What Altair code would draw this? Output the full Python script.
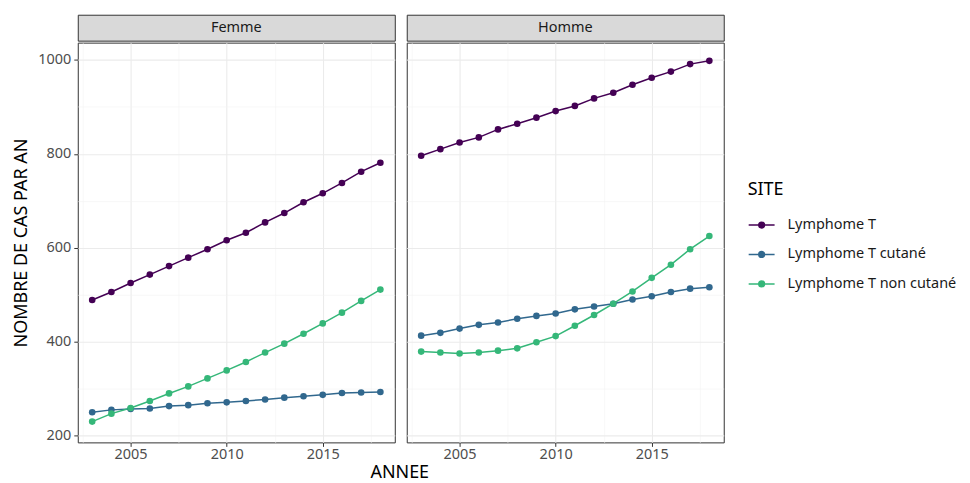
import altair as alt
import pandas as pd

years = list(range(2003, 2019))
sexes = ["Femme", "Homme"]
sites = ["Lymphome T", "Lymphome T cutané", "Lymphome T non cutané"]
colors = ["#440154", "#31688E", "#35B779"]

femme_t = [489, 506, 525, 543, 561, 579, 597, 616, 632, 654, 674, 697, 716, 738, 762, 781]
femme_cut = [250, 255, 257, 258, 263, 265, 269, 271, 274, 277, 281, 284, 287, 291, 292, 293]
femme_noncut = [230, 247, 259, 274, 290, 305, 322, 339, 357, 377, 396, 417, 439, 462, 487, 511]
homme_t = [796, 810, 824, 835, 852, 864, 877, 891, 902, 918, 930, 947, 962, 975, 991, 998]
homme_cut = [413, 419, 428, 436, 441, 449, 455, 460, 469, 475, 481, 490, 497, 506, 513, 516]
homme_noncut = [379, 377, 375, 377, 381, 386, 399, 412, 434, 457, 481, 507, 536, 564, 597, 625]

series = {
    ("Femme", sites[0]): femme_t,
    ("Femme", sites[1]): femme_cut,
    ("Femme", sites[2]): femme_noncut,
    ("Homme", sites[0]): homme_t,
    ("Homme", sites[1]): homme_cut,
    ("Homme", sites[2]): homme_noncut,
}
rows = []
for (sexe, site), vals in series.items():
    for yr, v in zip(years, vals):
        rows.append({"sexe": sexe, "site": site, "annee": yr, "cas": v})
df = pd.DataFrame(rows)

FONT = "Noto Sans"
PW, PH = 318, 401
TITLE_FS = 18
LABEL_FS = 14.5
x_vals = [2002.5, 2005, 2007.5, 2010, 2012.5, 2015, 2017.5]
y_vals = list(range(200, 1001, 100))


def grid_color(test):
    return {"condition": {"test": test, "value": "#F3F3F3"}, "value": "#EBEBEB"}


def grid_width(test):
    return {"condition": {"test": test, "value": 0.6}, "value": 1.1}


def tick_color(test):
    return {"condition": {"test": test, "value": "transparent"}, "value": "#333333"}


def panel(sexe, first):
    xminor = "datum.value % 5 != 0"
    yminor = "datum.value % 200 != 0"
    xaxis = alt.Axis(
        values=x_vals,
        labelExpr="datum.value % 5 == 0 ? format(datum.value, 'd') : ''",
        gridColor=grid_color(xminor),
        gridWidth=grid_width(xminor),
        tickColor=tick_color(xminor),
        tickSize=4,
        labelPadding=1,
        domain=False,
        labelFont=FONT,
        labelFontSize=LABEL_FS,
        labelColor="#4D4D4D",
        title=None,
    )
    if first:
        yaxis = alt.Axis(
            values=y_vals,
            labelExpr="datum.value % 200 == 0 ? format(datum.value, 'd') : ''",
            gridColor=grid_color(yminor),
            gridWidth=grid_width(yminor),
            tickColor=tick_color(yminor),
            tickSize=4,
            labelPadding=3,
            domain=False,
            labelFont=FONT,
            labelFontSize=LABEL_FS,
            labelColor="#4D4D4D",
            title="NOMBRE DE CAS PAR AN",
            titleFont=FONT,
            titleFontSize=TITLE_FS,
            titleFontWeight="normal",
            titleColor="#000000",
            titlePadding=7,
        )
    else:
        yaxis = alt.Axis(
            values=y_vals,
            labels=False,
            ticks=False,
            domain=False,
            gridColor=grid_color(yminor),
            gridWidth=grid_width(yminor),
            title=None,
        )
    base = alt.Chart(df).transform_filter(alt.datum.sexe == sexe).encode(
        x=alt.X("annee:Q", scale=alt.Scale(domain=[2002.25, 2018.75], nice=False, zero=False), axis=xaxis),
        y=alt.Y("cas:Q", scale=alt.Scale(domain=[185.8, 1036.7], nice=False, zero=False), axis=yaxis),
        color=alt.Color(
            "site:N",
            scale=alt.Scale(domain=sites, range=colors),
            legend=alt.Legend(
                title="SITE",
                orient="none",
                legendX=PW * 2 + 10 + 26,
                legendY=167,
                titleFont=FONT,
                titleFontSize=TITLE_FS,
                titleFontWeight="normal",
                titleColor="#000000",
                titlePadding=12,
                labelFont=FONT,
                labelFontSize=LABEL_FS,
                labelColor="#1A1A1A",
                labelOffset=12,
                labelLimit=400,
                rowPadding=8.5,
                padding=0,
                symbolType="M-1,0H1M-0.22,0A0.22,0.22,0,1,1,0.22,0A0.22,0.22,0,1,1,-0.22,0Z",
                symbolSize=676,
                symbolStrokeWidth=1.5,
            ),
        ),
    )
    line = base.mark_line(strokeWidth=1.5)
    pts = base.mark_point(filled=True, size=44, opacity=1)
    return alt.layer(line, pts).properties(
        width=PW,
        height=PH,
        view=alt.ViewBackground(fill="white", stroke="#333333", strokeWidth=1),
    )


def strip(sexe):
    sdf = pd.DataFrame({"label": [sexe]})
    return alt.Chart(sdf).mark_text(font=FONT, fontSize=LABEL_FS, color="#1A1A1A").encode(
        text="label:N", x=alt.value(PW / 2), y=alt.value(13)
    ).properties(
        width=PW,
        height=26,
        view=alt.ViewBackground(fill="#D9D9D9", stroke="#333333", strokeWidth=1),
    )


cols = []
for i, s in enumerate(sexes):
    cols.append(alt.vconcat(strip(s), panel(s, i == 0), spacing=0))

chart = alt.hconcat(*cols, spacing=10).properties(
    padding={"left": 4, "top": 5, "right": 5, "bottom": 0},
    title=alt.TitleParams(
        "ANNEE",
        orient="bottom",
        anchor="middle",
        frame="group",
        dx=PW + 5,
        font=FONT,
        fontSize=TITLE_FS,
        fontWeight="normal",
        color="#000000",
        offset=3,
    ),
).configure_view(stroke="#333333", strokeWidth=1).configure(background="white")

chart.save("out.html", embed_options={"renderer": "svg", "actions": False})
